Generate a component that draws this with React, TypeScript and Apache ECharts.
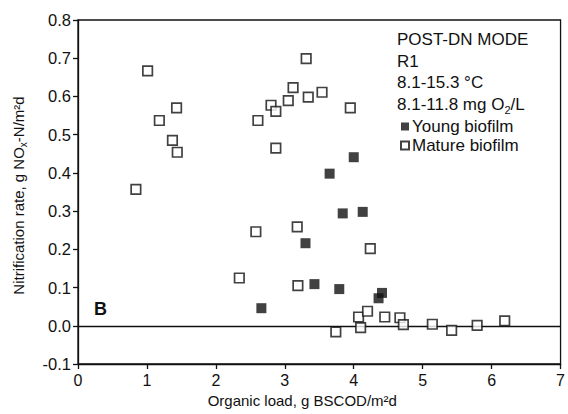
import React, { useEffect, useRef } from "react";
import * as echarts from "echarts";

const xTicks = [0, 1, 2, 3, 4, 5, 6, 7];
const yTicks = [-0.1, 0.0, 0.1, 0.2, 0.3, 0.4, 0.5, 0.6, 0.7, 0.8];

const youngBiofilm: [number, number][] = [
  [2.66, 0.046], [3.30, 0.216], [3.43, 0.109], [3.65, 0.398], [3.79, 0.096],
  [3.84, 0.294], [4.0, 0.441], [4.13, 0.298], [4.36, 0.072], [4.41, 0.086],
];

const matureBiofilm: [number, number][] = [
  [0.84, 0.357], [1.01, 0.667], [1.18, 0.537], [1.37, 0.485], [1.43, 0.57],
  [1.44, 0.454], [2.34, 0.125], [2.58, 0.246], [2.61, 0.537], [2.80, 0.577],
  [2.87, 0.561], [2.87, 0.465], [3.05, 0.589], [3.12, 0.623], [3.18, 0.259],
  [3.19, 0.105], [3.31, 0.699], [3.34, 0.598], [3.54, 0.611], [3.74, -0.016],
  [3.95, 0.57], [4.07, 0.023], [4.10, -0.005], [4.20, 0.038], [4.24, 0.202],
  [4.45, 0.023], [4.67, 0.021], [4.72, 0.003], [5.14, 0.004], [5.42, -0.012],
  [5.79, 0.001], [6.19, 0.013],
];

const headerLines = ["POST-DN MODE", "R1", "8.1-15.3 °C", "8.1-11.8 mg O{sub|2}/L"];
const seriesNames = ["Young biofilm", "Mature biofilm"];
const panelLabel = "B";

const FONT = "'Liberation Sans', Arial, Helvetica, sans-serif";
const INK = "#111";

export default function App() {
  const ref = useRef<HTMLDivElement>(null);

  useEffect(() => {
    if (!ref.current) return;
    const chart = echarts.init(ref.current, null, { renderer: "svg" });

    const headerGraphics = headerLines.map((line, i) => ({
      type: "text",
      left: 397,
      top: 28.5 + i * 21.5,
      style: {
        text: line,
        fill: INK,
        font: `17px ${FONT}`,
        rich: {
          sub: { fontSize: 11, lineHeight: 12, verticalAlign: "bottom", fontFamily: FONT, fill: INK },
        },
        lineHeight: 22,
      },
    }));

    chart.setOption({
      animation: false,
      backgroundColor: "#fff",
      textStyle: { fontFamily: FONT, color: INK },
      grid: {
        left: 77,
        right: 5,
        top: 20,
        bottom: 50,
        show: true,
        borderColor: INK,
        borderWidth: 1.3,
        backgroundColor: "transparent",
      },
      xAxis: {
        type: "value",
        min: xTicks[0],
        max: xTicks[xTicks.length - 1],
        interval: 1,
        name: "Organic load, g BSCOD/m²d",
        nameLocation: "middle",
        nameGap: 28,
        nameTextStyle: { fontSize: 15, color: INK, fontFamily: FONT, padding: [0, 34, 0, 0] },
        axisLine: { onZero: false, lineStyle: { color: INK, width: 1.3 } },
        axisTick: { show: true, length: 5, inside: false, lineStyle: { color: INK, width: 1.3 } },
        axisLabel: { fontSize: 16, color: INK, margin: 8, fontFamily: FONT },
        splitLine: { show: false },
      },
      yAxis: {
        type: "value",
        min: yTicks[0],
        max: yTicks[yTicks.length - 1],
        interval: 0.1,
        name: "Nitrification rate, g NO{sub|x}-N/m²d",
        nameLocation: "middle",
        nameGap: 50,
        nameTextStyle: {
          fontSize: 15,
          color: INK,
          fontFamily: FONT,
          lineHeight: 20,
          padding: [0, 7, 0, 0],
          rich: {
            sub: { fontSize: 10, lineHeight: 10, verticalAlign: "bottom", color: INK, fontFamily: FONT },
          },
        },
        axisLine: { onZero: false, lineStyle: { color: INK, width: 1.3 } },
        axisTick: { show: true, length: 5, inside: false, lineStyle: { color: INK, width: 1.3 } },
        axisLabel: {
          fontSize: 16.5,
          color: INK,
          margin: 7,
          fontFamily: FONT,
          formatter: (v: number) => (Math.abs(v) < 1e-9 ? "0.0" : v.toFixed(1)),
        },
        splitLine: { show: false },
      },
      legend: {
        orient: "vertical",
        left: 395,
        top: 112,
        itemWidth: 8,
        itemHeight: 8,
        itemGap: 0,
        icon: "rect",
        data: seriesNames,
        textStyle: { fontSize: 17, color: INK, fontFamily: FONT, lineHeight: 19, padding: [0, 0, 0, -2] },
        selectedMode: false,
      },
      graphic: [
        ...headerGraphics,
        {
          type: "text",
          left: 94,
          top: 300,
          style: { text: panelLabel, fill: INK, font: `bold 18px ${FONT}` },
        },
      ],
      series: [
        {
          name: seriesNames[0],
          type: "scatter",
          data: youngBiofilm,
          symbol: "rect",
          symbolSize: 10,
          itemStyle: { color: INK, borderColor: INK, borderWidth: 0 },
          z: 3,
        },
        {
          name: seriesNames[1],
          type: "scatter",
          data: matureBiofilm,
          symbol: "rect",
          symbolSize: 9.5,
          itemStyle: { color: "#fff", borderColor: INK, borderWidth: 1.7 },
          z: 3,
          markLine: {
            silent: true,
            symbol: "none",
            label: { show: false },
            lineStyle: { color: INK, width: 1.3, type: "solid" },
            data: [{ yAxis: 0 }],
            z: 1,
          },
        },
      ],
    });

    return () => chart.dispose();
  }, []);

  return <div ref={ref} style={{ width: 568, height: 414, position: "absolute", left: 0, top: 0 }} />;
}
